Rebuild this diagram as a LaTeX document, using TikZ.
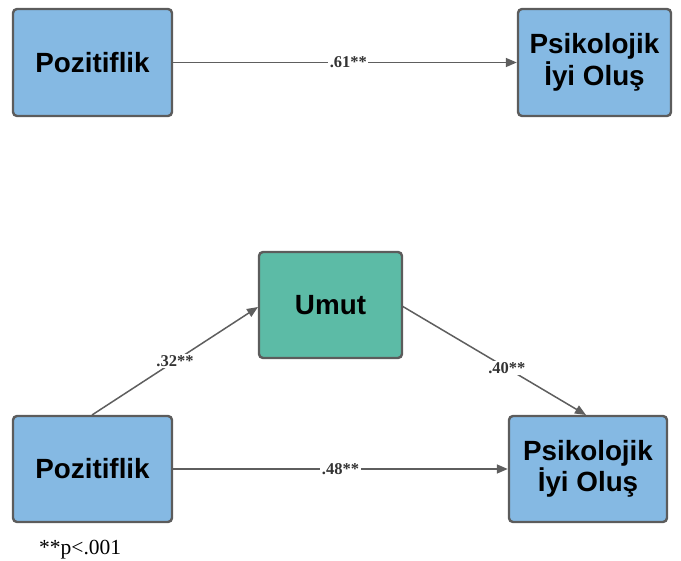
\documentclass[tikz,border=0pt]{standalone}
\usepackage{fontspec}
\setmainfont{Liberation Serif}
\setsansfont{Liberation Sans}
\usetikzlibrary{arrows.meta}
\definecolor{boxblue}{HTML}{85B9E3}
\definecolor{boxgreen}{HTML}{5CBBA6}
\definecolor{edge}{HTML}{5C5C5C}
\definecolor{arr}{HTML}{5E5E5E}
\tikzset{
  varbox/.style={draw=edge, line width=2.4pt, rounded corners=4pt, fill=boxblue,
    align=center, inner sep=0pt, font=\sffamily\bfseries\fontsize{27.8}{31.5}\selectfont},
  conn/.style={draw=arr, line width=1.5pt, -{Triangle[length=11pt,width=9pt]}},
  coef/.style={fill=white, inner sep=1.5pt, font=\rmfamily\bfseries\fontsize{16.5}{18}\selectfont, text=black!80}
}
\begin{document}
\begin{tikzpicture}[x=1pt,y=-1pt]
\useasboundingbox (0,0) rectangle (681,561);
% top model
\node[varbox, minimum width=159pt, minimum height=107pt] (p1) at (92.5,62.5) {Pozitiflik};
\node[varbox, minimum width=153pt, minimum height=107pt] (o1) at (594.5,62.5) {Psikolojik\\İyi Oluş};
\draw[conn] (p1.east) -- node[coef, pos=0.51] {.61**} (o1.west);
% bottom model
\node[varbox, fill=boxgreen, minimum width=143pt, minimum height=106pt] (u) at (330.5,305) {Umut};
\node[varbox, minimum width=159pt, minimum height=106pt] (p2) at (92.5,469) {Pozitiflik};
\node[varbox, minimum width=158pt, minimum height=106pt] (o2) at (588,469) {Psikolojik\\İyi Oluş};
\coordinate (a1) at (92,415);
\coordinate (a2) at (258,307);
\coordinate (b1) at (402,306);
\coordinate (b2) at (586,415);
\draw[conn] (a1) -- node[coef, pos=0.5] {.32**} (a2);
\draw[conn] (b1) -- node[coef, pos=0.57] {.40**} (b2);
\draw[conn] (p2.east) -- node[coef, pos=0.5] {.48**} (o2.west);
\node[font=\rmfamily\fontsize{21.5}{24}\selectfont, anchor=west, inner sep=0pt] (note) at (39,550) {**p<.001};
\end{tikzpicture}
\end{document}
